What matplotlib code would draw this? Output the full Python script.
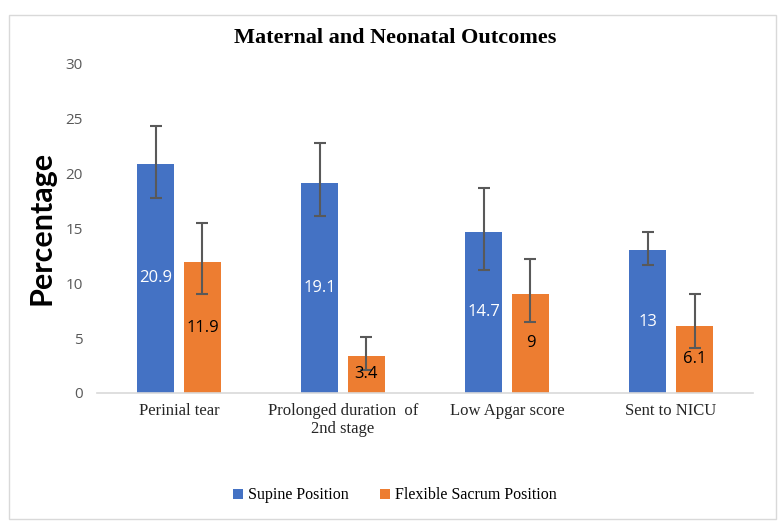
import matplotlib.pyplot as plt
import numpy as np
from matplotlib.patches import Rectangle

categories = ["Perinial tear", "Prolonged duration  of\n2nd stage", "Low Apgar score", "Sent to NICU"]
supine = [20.9, 19.1, 14.7, 13]
flexible = [11.9, 3.4, 9, 6.1]

# error bar ends (low, high)
supine_low = [17.8, 16.1, 11.2, 11.7]
supine_high = [24.3, 22.8, 18.7, 14.7]
flexible_low = [9.0, 2.1, 6.5, 4.1]
flexible_high = [15.5, 5.05, 12.25, 9.0]

blue = "#4472C4"
orange = "#ED7D31"

fig = plt.figure(figsize=(7.82, 5.28), dpi=100)
ax = fig.add_axes([0.124, 0.256, 0.839, 0.623])

x = np.arange(len(categories))
w = 0.225
off = 0.143

yerr_s = [np.array(supine) - np.array(supine_low), np.array(supine_high) - np.array(supine)]
yerr_f = [np.array(flexible) - np.array(flexible_low), np.array(flexible_high) - np.array(flexible)]

b1 = ax.bar(x - off, supine, w, color=blue, label="Supine Position",
            yerr=yerr_s, error_kw=dict(ecolor="#595959", elinewidth=1.5, capsize=4, capthick=1.5))
b2 = ax.bar(x + off, flexible, w, color=orange, label="Flexible Sacrum Position",
            yerr=yerr_f, error_kw=dict(ecolor="#595959", elinewidth=1.5, capsize=4, capthick=1.5))

for i in range(len(categories)):
    ax.text(x[i] - off, supine[i] / 2, f"{supine[i]:g}", ha="center", va="center",
            color="white", fontsize=12, family="Open Sans")
    ax.text(x[i] + off, flexible[i] / 2, f"{flexible[i]:g}", ha="center", va="center",
            color="black", fontsize=12, family="Open Sans")

ax.set_xlim(-0.5, 3.5)
ax.set_ylim(0, 30)
ax.set_yticks(range(0, 31, 5))
ax.set_xticks(x)
ax.set_xticklabels(categories, family="Liberation Serif", fontsize=12, color="#262626")
ax.tick_params(axis="both", length=0, colors="#595959")
ax.tick_params(axis="x", pad=7, labelcolor="#262626")
for lbl in ax.get_yticklabels():
    lbl.set_fontsize(11)
    lbl.set_family("Open Sans")
ax.tick_params(axis="y", pad=10)

for s in ["top", "right", "left"]:
    ax.spines[s].set_visible(False)
ax.spines["bottom"].set_color("#D9D9D9")
ax.spines["bottom"].set_linewidth(1.2)

ax.set_ylabel("Percentage", fontsize=22, fontweight="bold", family="Lato", labelpad=7)
fig.text(0.505, 0.928, "Maternal and Neonatal Outcomes", ha="center", va="center",
         fontsize=16, fontweight="bold", family="Liberation Serif")

fig.legend(handles=[b1, b2], loc="center", bbox_to_anchor=(0.505, 0.062), ncol=2, frameon=False,
           prop={"family": "Liberation Serif", "size": 11.5}, handlelength=0.6, handleheight=0.6,
           handletextpad=0.3, columnspacing=2.0)

fig.patches.append(Rectangle((0.012, 0.017), 0.98, 0.955, transform=fig.transFigure,
                             fill=False, edgecolor="#D9D9D9", linewidth=1))

fig.savefig("out.png", dpi=100)
